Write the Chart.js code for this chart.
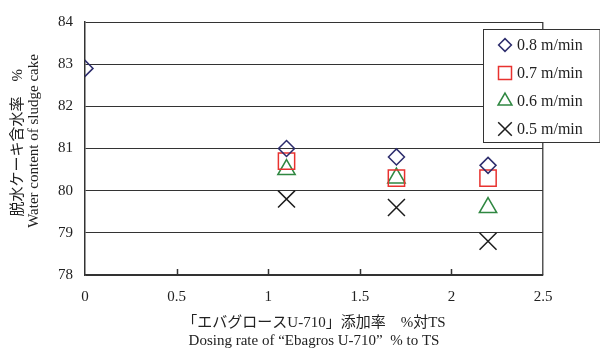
<!DOCTYPE html>
<html>
<head>
<meta charset="utf-8">
<script src="https://cdn.jsdelivr.net/npm/chart.js@4/dist/chart.umd.min.js"></script>
<style>
  html, body { margin: 0; padding: 0; background: #fff; }
  canvas { display: block; }
</style>
</head>
<body>
<canvas id="chart" width="600" height="350"></canvas>
<script>
// Dosing rate (% to TS) and cake water content (%) for each belt speed
const dosingRates = [0, 1.1, 1.7, 2.2];
const speed08 = [82.9, 81.0, 80.8, 80.6];
const speed07 = [null, 80.7, 80.3, 80.3];
const speed06 = [null, 80.5, 80.3, 79.6];
const speed05 = [null, 79.8, 79.6, 78.8];
const seriesLabels = ['0.8 m/min', '0.7 m/min', '0.6 m/min', '0.5 m/min'];
const xTickValues = [0, 0.5, 1, 1.5, 2, 2.5];
const yTickValues = [78, 79, 80, 81, 82, 83, 84];
const xTitleLines = ['「エバグロースU-710」添加率　%対TS', 'Dosing rate of “Ebagros U-710”  % to TS'];
const yTitleLines = ['   脱水ケーキ含水率　%', '    Water content of sludge cake'];

const FONT = '"Liberation Serif", "DejaVu Serif", "Noto Sans CJK JP", serif';

function toPoints(values) {
  const pts = [];
  values.forEach((v, i) => { if (v !== null) pts.push({ x: dosingRates[i], y: v }); });
  return pts;
}

const markerStyles = [
  { pointStyle: 'rectRot', radius: 8, color: '#2c2c6c' },
  { pointStyle: 'rect', radius: 11.5, color: '#e8322f' },
  { pointStyle: 'triangle', radius: 10, color: '#2f8741' },
  { pointStyle: 'crossRot', radius: 12, color: '#1c1c1c' }
];

const seriesValues = [speed08, speed07, speed06, speed05];

const datasets = seriesValues.map((vals, i) => ({
  label: seriesLabels[i],
  data: toPoints(vals),
  showLine: false,
  pointStyle: markerStyles[i].pointStyle,
  pointRadius: markerStyles[i].radius,
  pointHoverRadius: markerStyles[i].radius,
  pointBorderWidth: 1.5,
  pointBackgroundColor: 'rgba(0,0,0,0)',
  pointBorderColor: markerStyles[i].color,
  borderColor: markerStyles[i].color,
  backgroundColor: 'rgba(0,0,0,0)'
}));

// Short inward tick marks along the bottom axis
const innerTicks = {
  id: 'innerTicks',
  afterDatasetsDraw(chart) {
    const { ctx, chartArea, scales } = chart;
    ctx.save();
    ctx.strokeStyle = '#333';
    ctx.lineWidth = 1.5;
    xTickValues.forEach(v => {
      if (v === 0 || v === 2.5) return;
      const px = Math.round(scales.x.getPixelForValue(v)) + 0.5;
      ctx.beginPath();
      ctx.moveTo(px, chartArea.bottom);
      ctx.lineTo(px, chartArea.bottom - 6);
      ctx.stroke();
    });
    ctx.restore();
  }
};

// Boxed legend sitting over the upper-right corner of the plot
const boxLegend = {
  id: 'boxLegend',
  afterDraw(chart) {
    const { ctx } = chart;
    const left = 483.5, top = 29.5, right = 600, bottom = 142.5;
    ctx.save();
    ctx.fillStyle = '#fff';
    ctx.fillRect(left, top, right - left, bottom - top);
    ctx.strokeStyle = '#333';
    ctx.lineWidth = 1;
    ctx.strokeRect(left, top, right - left, bottom - top);
    ctx.font = '16px ' + FONT;
    ctx.textBaseline = 'middle';
    ctx.textAlign = 'left';
    chart.data.datasets.forEach((ds, i) => {
      const y = 45 + i * 28;
      const m = markerStyles[i];
      ctx.strokeStyle = m.color;
      ctx.fillStyle = 'rgba(0,0,0,0)';
      ctx.lineWidth = 1.5;
      Chart.helpers.drawPoint(ctx, {
        pointStyle: m.pointStyle,
        radius: m.radius * 0.8,
        borderWidth: 1.5,
        rotation: 0
      }, 505, y);
      ctx.fillStyle = '#222';
      ctx.fillText(ds.label, 517, y + 1);
    });
    ctx.restore();
  }
};

new Chart(document.getElementById('chart'), {
  type: 'scatter',
  data: { datasets },
  plugins: [innerTicks, boxLegend],
  options: {
    responsive: false,
    animation: false,
    devicePixelRatio: 1,
    layout: { padding: { left: 0, top: 22, right: 57, bottom: 0 } },
    plugins: {
      legend: { display: false },
      tooltip: { enabled: false }
    },
    scales: {
      x: {
        type: 'linear',
        min: 0,
        max: 2.5,
        afterBuildTicks: s => { s.ticks = xTickValues.map(v => ({ value: v })); },
        afterFit: s => { s.height = 75; },
        grid: {
          drawTicks: false,
          lineWidth: 1.5,
          color: c => (c.tick && c.tick.value === 2.5) ? '#555' : 'rgba(0,0,0,0)'
        },
        border: { display: true, color: '#333', width: 1.5 },
        ticks: {
          padding: 13,
          color: '#222',
          font: { family: FONT, size: 15 },
          callback: v => String(v)
        },
        title: {
          display: true,
          text: xTitleLines,
          color: '#222',
          font: { family: FONT, size: 15, lineHeight: 18 / 15 },
          padding: { top: 0, bottom: 0 }
        }
      },
      y: {
        type: 'linear',
        min: 78,
        max: 84,
        afterBuildTicks: s => { s.ticks = yTickValues.map(v => ({ value: v })); },
        afterFit: s => { s.width = 85; },
        grid: {
          drawTicks: false,
          lineWidth: 1,
          color: '#333'
        },
        border: { display: true, color: '#333', width: 1.5 },
        ticks: {
          padding: 12,
          color: '#222',
          font: { family: FONT, size: 15 },
          callback: v => String(v)
        },
        title: {
          display: true,
          text: yTitleLines,
          color: '#222',
          font: { family: FONT, size: 15, lineHeight: 16 / 15 },
          padding: { top: 10, bottom: 0 }
        }
      }
    }
  }
});
</script>
</body>
</html>
